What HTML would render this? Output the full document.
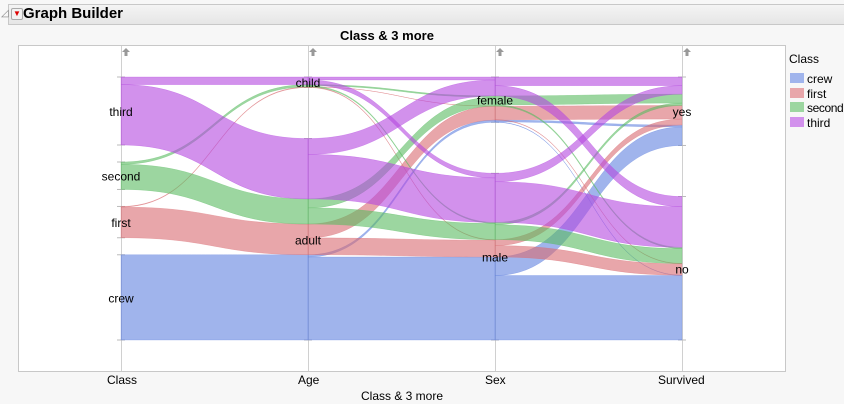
<!DOCTYPE html>
<html><head><meta charset="utf-8"><style>
body{margin:0;width:844px;height:404px;background:#f7f7f7;font-family:"Liberation Sans",sans-serif;overflow:hidden;position:relative}
.t{position:absolute;white-space:nowrap;color:#000}
</style></head><body>
<div style="position:absolute;left:8px;top:4px;width:836px;height:19px;background:linear-gradient(#f4f4f4,#e6e6e6);border:1px solid #c8c8c8"></div>
<div class="t" style="left:1px;top:8px;font-size:10px;color:#888">◿</div>
<div style="position:absolute;left:11px;top:8px;width:10px;height:10px;background:#f2f2f2;border:1px solid #aaa;border-radius:2px"></div>
<div class="t" style="left:13px;top:9px;font-size:8px;color:#d00">▼</div>
<div class="t" style="left:23px;top:5px;font-size:15px;font-weight:bold">Graph Builder</div>
<div class="t" style="left:340px;top:28px;font-size:13px;font-weight:bold">Class &amp; 3 more</div>
<svg id="s" width="844" height="404" style="position:absolute;left:0;top:0">
<rect x="18.5" y="45.5" width="767" height="326" fill="#fff" stroke="#c8c8c8"/>
</svg>
<div class="t" style="left:107px;top:373px;font-size:12px">Class</div>
<div class="t" style="left:298px;top:373px;font-size:12px">Age</div>
<div class="t" style="left:485px;top:373px;font-size:12px">Sex</div>
<div class="t" style="left:658px;top:373px;font-size:12px">Survived</div>
<div class="t" style="left:361px;top:389px;font-size:12px">Class &amp; 3 more</div>
<div class="t" style="left:789px;top:52px;font-size:12px">Class</div>
<div style="position:absolute;left:790px;top:73px;width:14px;height:10px;background:#a0b4ec"></div>
<div style="position:absolute;left:790px;top:88px;width:14px;height:10px;background:#e8a6aa"></div>
<div style="position:absolute;left:790px;top:102px;width:14px;height:10px;background:#9cd6a0"></div>
<div style="position:absolute;left:790px;top:117px;width:14px;height:10px;background:#d291ec"></div>
<div class="t" style="left:807px;top:72px;font-size:12px">crew</div>
<div class="t" style="left:807px;top:87px;font-size:12px">first</div>
<div class="t" style="left:807px;top:101px;font-size:12px;letter-spacing:-0.4px">second</div>
<div class="t" style="left:807px;top:116px;font-size:12px">third</div>
<script>
(function(){
var S=document.getElementById('s'),NS='http://www.w3.org/2000/svg';
function el(n,a){var e=document.createElementNS(NS,n);for(var k in a)e.setAttribute(k,a[k]);S.appendChild(e);return e;}
var D=[
['crew','adult','male','no',670],['crew','adult','male','yes',192],['crew','adult','female','no',3],['crew','adult','female','yes',20],
['first','child','male','yes',5],['first','child','female','yes',1],['first','adult','male','no',118],['first','adult','male','yes',57],['first','adult','female','no',4],['first','adult','female','yes',140],
['second','child','male','yes',11],['second','child','female','yes',13],['second','adult','male','no',154],['second','adult','male','yes',14],['second','adult','female','no',13],['second','adult','female','yes',80],
['third','child','male','no',35],['third','child','male','yes',13],['third','child','female','no',17],['third','child','female','yes',14],['third','adult','male','no',387],['third','adult','male','yes',75],['third','adult','female','no',89],['third','adult','female','yes',76]];
var cats=[['third','second','first','crew'],['child','adult'],['female','male'],['yes','no']];
var X=[121,308,495,682],Y0=77,Y1=340,sc=0.0963;
var col={crew:'rgb(97,130,223)',first:'rgb(217,107,113)',second:'rgb(90,187,97)',third:'rgb(180,72,223)'};
var cls=cats[0];
var node=[];
for(var a=0;a<4;a++){var tot={};cats[a].forEach(function(c){tot[c]=0});D.forEach(function(r){tot[r[a]]+=r[4]});
 var sum=0;cats[a].forEach(function(c){sum+=tot[c]*sc});var g=(Y1-Y0-sum)/(cats[a].length-1);var y=Y0,m={};
 cats[a].forEach(function(c){m[c]=[y,y+tot[c]*sc];y+=tot[c]*sc+g});node.push(m);}
for(var a=0;a<4;a++){el('line',{x1:X[a]+.5,y1:46,x2:X[a]+.5,y2:371,stroke:'#d0d0d0'});
 for(var c in node[a]){node[a][c].forEach(function(v){el('line',{x1:X[a]-4,y1:v,x2:X[a]+4,y2:v,stroke:'#bbb'})});}}
for(var a=0;a<3;a++){var b=a+1,f={};
 D.forEach(function(r){var k=r[0]+'|'+r[a]+'|'+r[b];f[k]=(f[k]||0)+r[4]});
 var fl=[];for(var k in f){var p=k.split('|');fl.push({c:p[0],s:p[1],t:p[2],n:f[k]});}
 cats[a].forEach(function(s){var y=node[a][s][0];fl.filter(function(q){return q.s==s}).sort(function(p,q){return cls.indexOf(p.c)-cls.indexOf(q.c)||cats[b].indexOf(p.t)-cats[b].indexOf(q.t)}).forEach(function(q){q.y0=y;y+=q.n*sc;q.y1=y;});});
 cats[b].forEach(function(t){var y=node[b][t][0];fl.filter(function(q){return q.t==t}).sort(function(p,q){return cls.indexOf(p.c)-cls.indexOf(q.c)||cats[a].indexOf(p.s)-cats[a].indexOf(q.s)}).forEach(function(q){q.z0=y;y+=q.n*sc;q.z1=y;});});
 var x0=X[a],x1=X[b],xm=(x0+x1)/2;
 fl.forEach(function(q){var d='M'+x0+','+q.y0+'C'+xm+','+q.y0+' '+xm+','+q.z0+' '+x1+','+q.z0+'L'+x1+','+q.z1+'C'+xm+','+q.z1+' '+xm+','+q.y1+' '+x0+','+q.y1+'Z';
  el('path',{d:d,fill:col[q.c],'fill-opacity':0.6,stroke:col[q.c],'stroke-opacity':0.5,'stroke-width':0.5});});
}
for(var a=0;a<4;a++){for(var c in node[a]){var m=node[a][c],t=el('text',{x:X[a],y:(m[0]+m[1])/2+5,'font-size':12,'text-anchor':'middle','font-family':'Liberation Sans,sans-serif'});t.textContent=c;}
 el('path',{d:'M'+(X[a]+5)+',48 l-4,4 h2.5 v4 h3 v-4 h2.5z',fill:'#999'});}
})();
</script>
</body></html>
